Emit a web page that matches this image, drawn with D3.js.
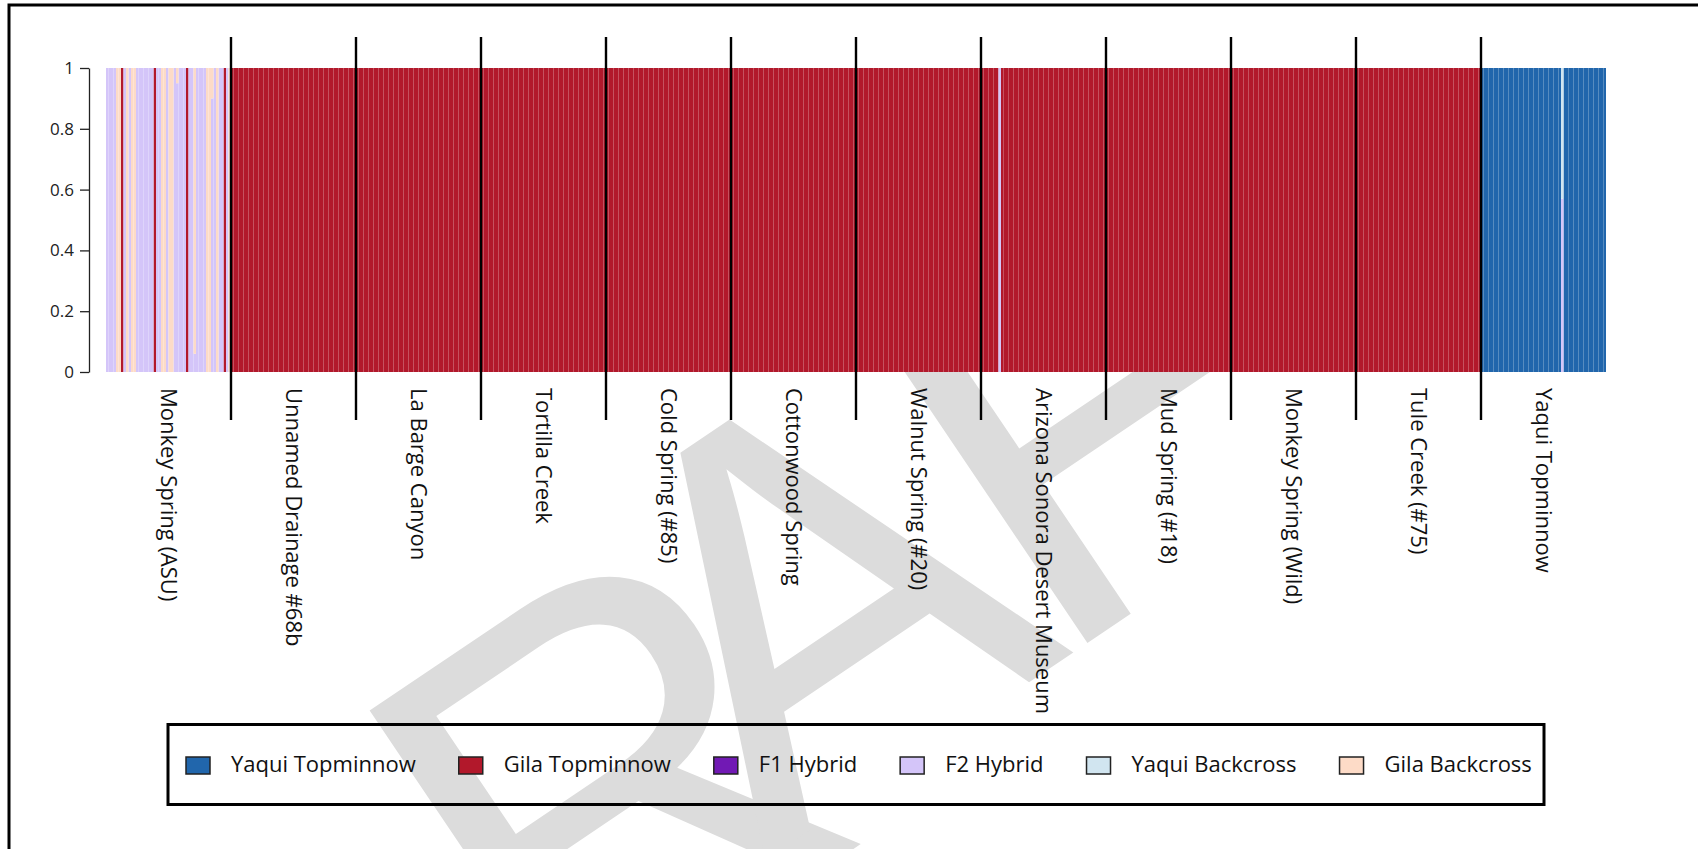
<!DOCTYPE html>
<html>
<head>
<meta charset="utf-8">
<script src="https://cdn.jsdelivr.net/npm/d3@7"></script>
<style>
  body { margin: 0; background: #fff; }
  svg { display: block; }
</style>
</head>
<body>
<main></main>
<script>
'use strict';

// assignment classes, bottom to top of each stacked bar
const classes = ['Yaqui Topminnow', 'Gila Topminnow', 'F1 Hybrid', 'F2 Hybrid', 'Yaqui Backcross', 'Gila Backcross'];
const classColors = ['#2166ac', '#b2182b', '#7119b4', '#d4c5f9', '#d1e5f0', '#fddbc7'];

const populations = [
  'Monkey Spring (ASU)', 'Unnamed Drainage #68b', 'La Barge Canyon', 'Tortilla Creek',
  'Cold Spring (#85)', 'Cottonwood Spring', 'Walnut Spring (#20)', 'Arizona Sonora Desert Museum',
  'Mud Spring (#18)', 'Monkey Spring (Wild)', 'Tule Creek (#75)', 'Yaqui Topminnow'
];

// one character per fish, read left to right off the plot
const genotypes = [
  'LLLLPPGLPLPPLLLLLLLGLLPPLPPLaLLLGLLbLLLLPPcLPLLGLP',
  'GGGGGGGGGGGGGGGGGGGGGGGGGGGGGGGGGGGGGGGGGGGGGGGGGG',
  'GGGGGGGGGGGGGGGGGGGGGGGGGGGGGGGGGGGGGGGGGGGGGGGGGG',
  'GGGGGGGGGGGGGGGGGGGGGGGGGGGGGGGGGGGGGGGGGGGGGGGGGG',
  'GGGGGGGGGGGGGGGGGGGGGGGGGGGGGGGGGGGGGGGGGGGGGGGGGG',
  'GGGGGGGGGGGGGGGGGGGGGGGGGGGGGGGGGGGGGGGGGGGGGGGGGG',
  'GGGGGGGGGGGGGGGGGGGGGGGGGGGGGGGGGGGGGGGGGGGGGGGGGG',
  'GGGGGGGLGGGGGGGGGGGGGGGGGGGGGGGGGGGGGGGGGGGGGGGGGG',
  'GGGGGGGGGGGGGGGGGGGGGGGGGGGGGGGGGGGGGGGGGGGGGGGGGG',
  'GGGGGGGGGGGGGGGGGGGGGGGGGGGGGGGGGGGGGGGGGGGGGGGGGG',
  'GGGGGGGGGGGGGGGGGGGGGGGGGGGGGGGGGGGGGGGGGGGGGGGGGG',
  'YYYYYYYYYYYYYYYYYYYYYYYYYYYYYYYYdYYYYYYYYYYYYYYYYY'
];

// membership probabilities per class for each code
const profiles = {
  Y: [1, 0, 0, 0, 0, 0],
  G: [0, 1, 0, 0, 0, 0],
  L: [0, 0, 0, 1, 0, 0],
  P: [0, 0, 0, 0, 0, 1],
  a: [0, 0, 0, 0.95, 0, 0.05],
  b: [0, 0, 0, 0.06, 0, 0.94],
  c: [0, 0, 0, 0.9, 0, 0.1],
  d: [0, 0, 0, 0.57, 0.43, 0]
};

const yTicks = [0, 0.2, 0.4, 0.6, 0.8, 1];

const width = 1698,
  height = 849;
const plot = {left: 106, right: 1606, top: 68, bottom: 372};

const svg = d3.select('main')
  .append('svg')
  .attr('width', width)
  .attr('height', height)
  .style('font-family', '"Open Sans", sans-serif');

// draft watermark, only shows below the bar panel
svg.append('clipPath')
  .attr('id', 'below-bars')
  .append('rect')
  .attr('x', 0)
  .attr('y', plot.bottom)
  .attr('width', width)
  .attr('height', height - plot.bottom);

const stamp = svg.append('g')
  .attr('clip-path', 'url(#below-bars)')
  .append('text')
  .attr('transform', 'translate(94,1313) rotate(-34)')
  .style('font-family', '"Liberation Sans", Arial, sans-serif')
  .style('font-size', '560px')
  .attr('fill', '#dcdcdc');

// hand-tuned letter nudges to follow the stamp in the scan
[['D', 60, 120], ['R', 55, -80], ['A', -115, -40], ['F', -30, 0], ['T', 80, 0]]
  .forEach(([ch, dx, dy]) => stamp.append('tspan').attr('dx', dx).attr('dy', dy).text(ch));

// page frame (right and bottom edges fall outside the crop)
svg.append('path')
  .attr('d', `M9,${height} V5 H${width}`)
  .attr('fill', 'none')
  .attr('stroke', '#000')
  .attr('stroke-width', 3);

const individuals = [];
populations.forEach((pop, p) => {
  genotypes[p].split('').forEach((code, i) => {
    const row = {id: p + '-' + i, pop: p};
    classes.forEach((c, k) => row[c] = profiles[code][k]);
    individuals.push(row);
  });
});

const series = d3.stack().keys(classes)(individuals);

const x = d3.scaleBand()
  .domain(individuals.map(d => d.id))
  .range([plot.left, plot.right]);

const y = d3.scaleLinear()
  .domain([0, 1])
  .range([plot.bottom, plot.top]);

svg.append('g')
  .selectAll('g')
  .data(series)
  .join('g')
  .attr('fill', (d, i) => classColors[i])
  .selectAll('rect')
  .data(d => d.filter(s => s[1] > s[0]))
  .join('rect')
  .attr('x', d => x(d.data.id))
  .attr('y', d => y(d[1]))
  .attr('width', x.bandwidth())
  .attr('height', d => y(d[0]) - y(d[1]));

// y axis
const yAxis = svg.append('g')
  .attr('transform', `translate(${plot.left - 17},0)`)
  .call(d3.axisLeft(y)
    .tickValues(yTicks)
    .tickFormat(d3.format('~g'))
    .tickSize(9)
    .tickSizeOuter(0)
    .tickPadding(6));
yAxis.selectAll('path, line').attr('stroke', '#222').attr('stroke-width', 1.3);
yAxis.selectAll('text')
  .style('font-family', '"Open Sans", sans-serif')
  .style('font-size', '17px')
  .attr('fill', '#222');

// population spans
const groups = populations.map((pop, p) => {
  const ids = individuals.filter(d => d.pop === p).map(d => d.id);
  const x0 = x(ids[0]);
  const x1 = x(ids[ids.length - 1]) + x.bandwidth();
  return {pop, x0, x1};
});

svg.append('g')
  .selectAll('line')
  .data(groups.slice(1))
  .join('line')
  .attr('x1', d => d.x0)
  .attr('x2', d => d.x0)
  .attr('y1', plot.top - 31)
  .attr('y2', plot.bottom + 48)
  .attr('stroke', '#000')
  .attr('stroke-width', 2.4);

svg.append('g')
  .selectAll('text')
  .data(groups)
  .join('text')
  .attr('transform', d => `translate(${(d.x0 + d.x1) / 2},${plot.bottom + 16}) rotate(90)`)
  .attr('dy', '0.35em')
  .style('font-size', '22px')
  .attr('fill', '#111')
  .text(d => d.pop);

// legend
const legend = svg.append('g');
legend.append('rect')
  .attr('x', 168)
  .attr('y', 724.5)
  .attr('width', 1376)
  .attr('height', 80)
  .attr('fill', 'none')
  .attr('stroke', '#000')
  .attr('stroke-width', 3);

let cursor = 186;
classes.forEach((c, i) => {
  const item = legend.append('g').attr('transform', `translate(${cursor},0)`);
  item.append('rect')
    .attr('x', 0)
    .attr('y', 757)
    .attr('width', 24)
    .attr('height', 17)
    .attr('fill', classColors[i])
    .attr('stroke', '#222')
    .attr('stroke-width', 1.5);
  const label = item.append('text')
    .attr('x', 45)
    .attr('y', 772)
    .style('font-size', '22px')
    .attr('fill', '#111')
    .text(c);
  cursor += 45 + label.node().getComputedTextLength() + 43;
});
</script>
</body>
</html>
